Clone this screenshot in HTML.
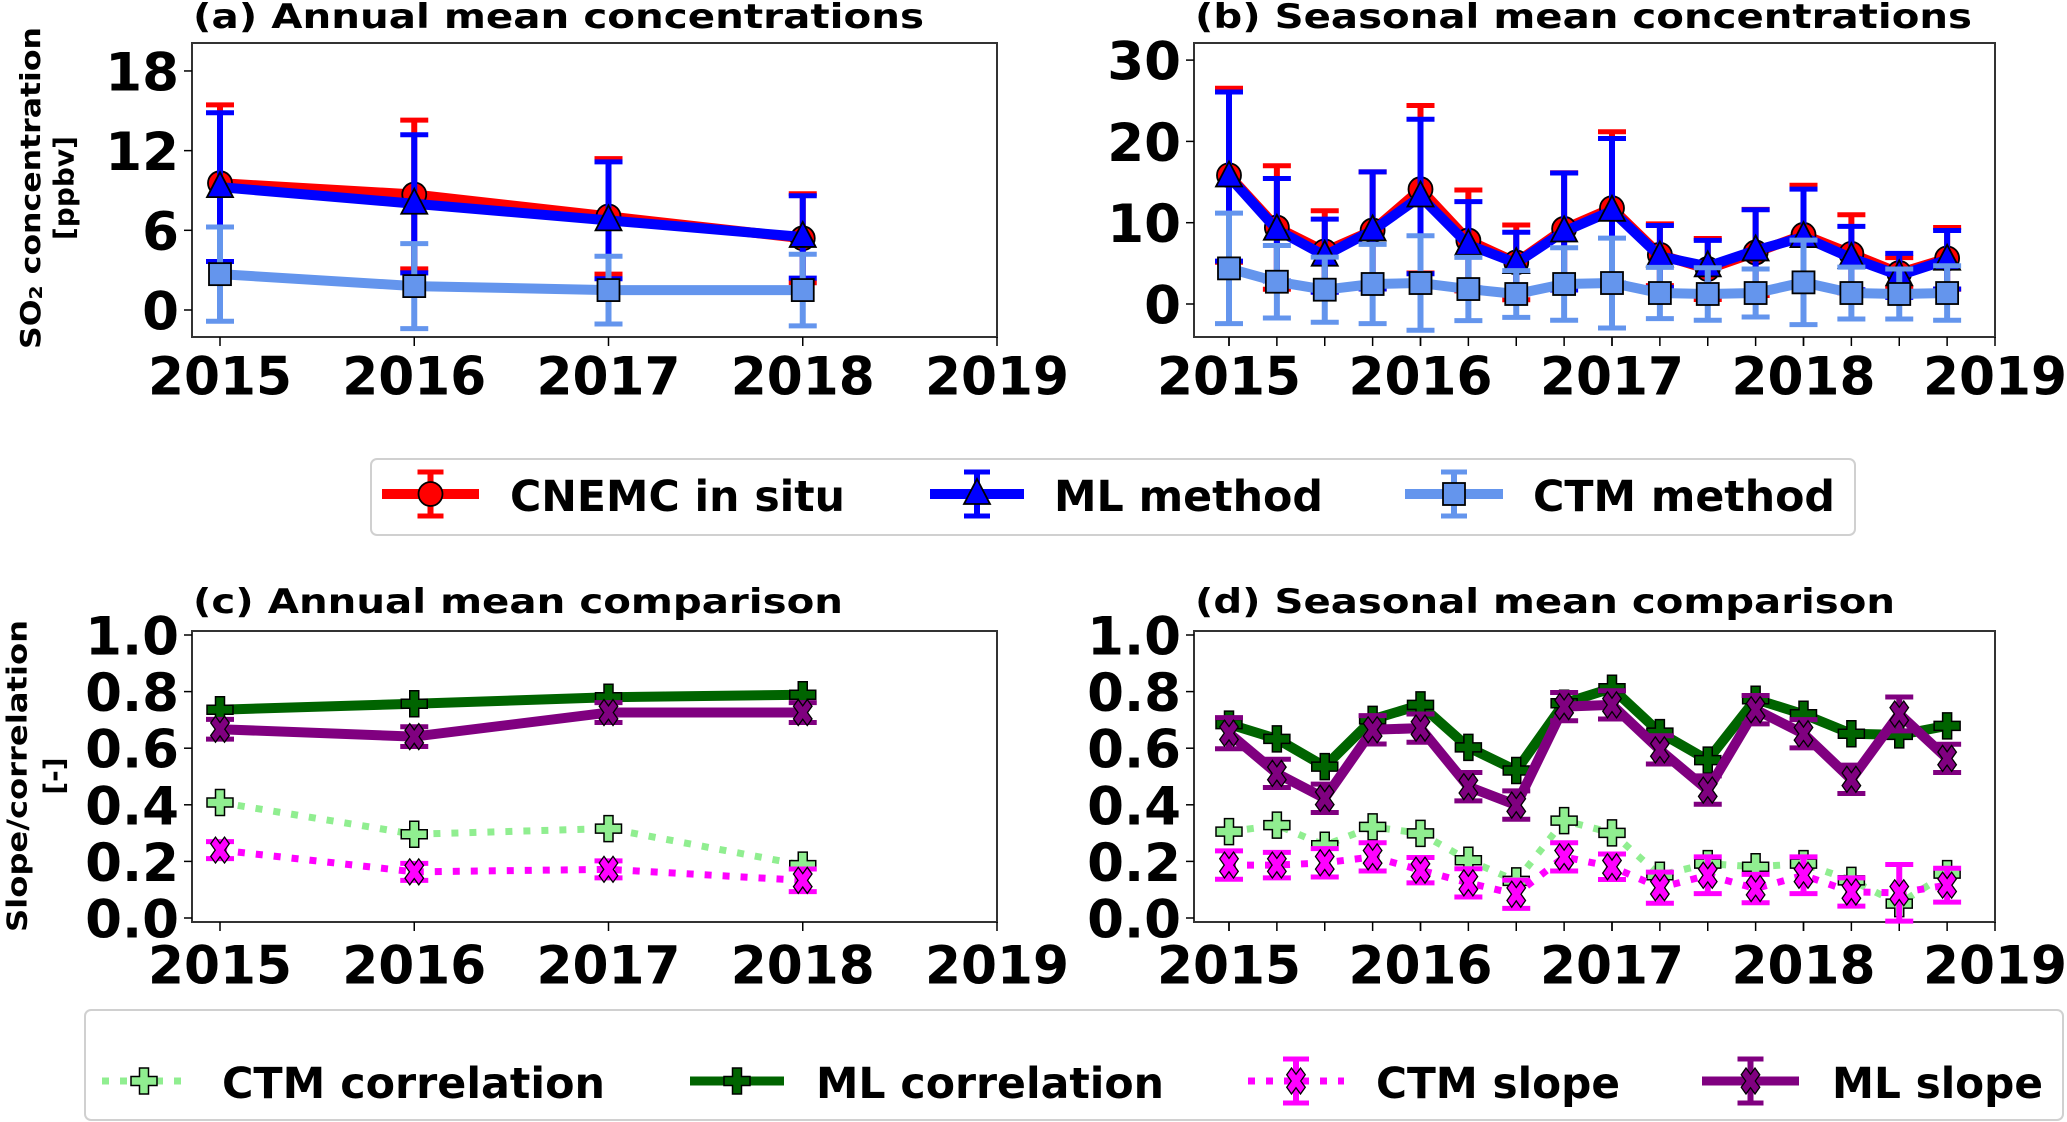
<!DOCTYPE html>
<html><head><meta charset="utf-8"><style>
html,body{margin:0;padding:0;background:#fff}
svg{display:block;font-family:"DejaVu Sans","Liberation Sans",sans-serif;font-weight:bold}
</style></head><body>
<svg id="fig" xmlns="http://www.w3.org/2000/svg" width="2067" height="1122" viewBox="0 0 2067 1122"></svg>
<script>
// ---------- data ----------
const annualYears = [2015, 2016, 2017, 2018];
const seasonIdx = [0,1,2,3,4,5,6,7,8,9,10,11,12,13,14,15];
const xTicks = [2015, 2016, 2017, 2018, 2019];
const xTickLabels = ['2015','2016','2017','2018','2019'];
const aYTicks = [0, 6, 12, 18];
const bYTicks = [0, 10, 20, 30];
const cdYTicks = [0, 0.2, 0.4, 0.6, 0.8, 1.0];
const cdYTickLabels = ['0.0','0.2','0.4','0.6','0.8','1.0'];

const aCnemc = [9.55, 8.7, 7.05, 5.4];
const aCnemcStd = [5.9, 5.6, 4.35, 3.35];
const aMl = [9.25, 8.0, 6.75, 5.5];
const aMlStd = [5.6, 5.2, 4.4, 3.1];
const aCtm = [2.7, 1.8, 1.5, 1.5];
const aCtmStd = [3.55, 3.2, 2.55, 2.7];

const bCnemc = [15.84, 9.41, 6.47, 9.05, 14.12, 7.82, 5.12, 9.25, 11.79, 6.06, 4.30, 6.34, 8.51, 6.18, 3.81, 5.61];
const bCnemcStd = [10.7, 7.6, 5.0, 7.2, 10.3, 6.2, 4.6, 6.9, 9.4, 3.8, 3.75, 5.3, 6.1, 4.8, 1.9, 3.8];
const bMl = [15.68, 9.13, 5.94, 9.05, 13.22, 7.29, 5.03, 8.92, 11.46, 5.85, 4.63, 6.59, 8.23, 5.65, 3.52, 5.44];
const bMlStd = [10.4, 6.3, 4.5, 7.2, 9.5, 5.3, 3.8, 7.2, 8.9, 3.8, 3.2, 5.0, 5.9, 3.9, 2.7, 3.6];
const bCtm = [4.38, 2.74, 1.76, 2.46, 2.58, 1.84, 1.23, 2.46, 2.58, 1.35, 1.23, 1.35, 2.66, 1.35, 1.23, 1.35];
const bCtmStd = [6.8, 4.46, 4.0, 4.88, 5.81, 3.89, 2.87, 4.46, 5.53, 3.15, 3.23, 2.95, 5.2, 3.19, 3.07, 3.35];

const cCtmCorr = [0.408, 0.296, 0.316, 0.187];
const cMlCorr = [0.736, 0.757, 0.780, 0.789];
const cCtmSlope = [0.240, 0.163, 0.172, 0.133];
const cCtmSlopeErr = [0.03, 0.03, 0.03, 0.04];
const cMlSlope = [0.667, 0.641, 0.726, 0.726];
const cMlSlopeErr = [0.035, 0.035, 0.035, 0.035];

const dCtmCorr = [0.305, 0.328, 0.257, 0.322, 0.299, 0.204, 0.131, 0.344, 0.301, 0.151, 0.192, 0.181, 0.192, 0.133, 0.051, 0.157];
const dMlCorr = [0.685, 0.633, 0.535, 0.702, 0.753, 0.603, 0.521, 0.759, 0.812, 0.655, 0.558, 0.773, 0.720, 0.651, 0.647, 0.679];
const dCtmSlope = [0.187, 0.187, 0.195, 0.216, 0.169, 0.124, 0.084, 0.216, 0.181, 0.107, 0.151, 0.104, 0.151, 0.092, 0.089, 0.116];
const dCtmSlopeErr = [0.05, 0.045, 0.05, 0.05, 0.045, 0.05, 0.05, 0.05, 0.045, 0.055, 0.065, 0.05, 0.065, 0.05, 0.1, 0.06];
const dMlSlope = [0.653, 0.511, 0.423, 0.665, 0.671, 0.464, 0.399, 0.747, 0.753, 0.594, 0.452, 0.736, 0.651, 0.490, 0.721, 0.564];
const dMlSlopeErr = [0.055, 0.05, 0.05, 0.05, 0.05, 0.05, 0.05, 0.05, 0.05, 0.05, 0.05, 0.05, 0.05, 0.05, 0.06, 0.05];

// ---------- helpers ----------
const NS = 'http://www.w3.org/2000/svg';
const svg = document.getElementById('fig');
function mk(tag, attrs, parent) {
  const e = document.createElementNS(NS, tag);
  for (const k in attrs) e.setAttribute(k, attrs[k]);
  (parent || svg).appendChild(e);
  return e;
}
function txt(parent, x, y, s, size, anchor, tl, extra) {
  const t = mk('text', Object.assign({x: x, y: y, 'font-size': size, 'text-anchor': anchor || 'middle', 'dominant-baseline': 'central', fill: '#000'}, extra || {}), parent);
  if (tl) { t.setAttribute('textLength', tl); t.setAttribute('lengthAdjust', 'spacingAndGlyphs'); }
  t.textContent = s;
  return t;
}
function markerShape(parent, kind, cx, cy, fill) {
  let e;
  if (kind === 'circle') {
    e = mk('ellipse', {cx: cx, cy: cy, rx: 12, ry: 12, fill: fill, stroke: '#000', 'stroke-width': 1.8}, parent);
  } else if (kind === 'tri') {
    e = mk('polygon', {points: `${cx},${cy-15} ${cx+13},${cy+10} ${cx-13},${cy+10}`, fill: fill, stroke: '#000', 'stroke-width': 1.8}, parent);
  } else if (kind === 'square') {
    e = mk('rect', {x: cx-11, y: cy-11, width: 22, height: 22, fill: fill, stroke: '#000', 'stroke-width': 1.8}, parent);
  } else if (kind === 'plus' || kind === 'x') {
    const s = 13, w = 4.5;
    e = mk('polygon', {points: `${cx-w},${cy-s} ${cx+w},${cy-s} ${cx+w},${cy-w} ${cx+s},${cy-w} ${cx+s},${cy+w} ${cx+w},${cy+w} ${cx+w},${cy+s} ${cx-w},${cy+s} ${cx-w},${cy+w} ${cx-s},${cy+w} ${cx-s},${cy-w} ${cx-w},${cy-w}`, fill: fill, stroke: '#000', 'stroke-width': 1.5}, parent);
    if (kind === 'x') e.setAttribute('transform', `translate(${cx} ${cy}) scale(0.75 1.05) rotate(45) translate(${-cx} ${-cy})`);
  }
  return e;
}

// ---------- panels ----------
function makePanel(cfg) {
  const g = mk('g', {});
  
  
  const L = cfg.left, R = cfg.right, T = cfg.top, B = cfg.bottom;
  const xs = v => cfg.x0 + (v - 2015) * cfg.xu;
  const ys = v => cfg.y0 - v * cfg.yu;
  const t = txt(g, (L + cfg.titleEnd) / 2, cfg.titleY, cfg.title, 34, 'middle', cfg.titleEnd - L - 2);
  
  
  const fr = mk('rect', {x: L, y: T, width: R - L, height: B - T, fill: '#fff', stroke: '#333', 'stroke-width': 2}, g);
  
  
  xTicks.forEach((v, i) => {
    const x = xs(v);
    mk('line', {x1: x, y1: B, x2: x, y2: B + 9, stroke: '#000', 'stroke-width': 1.5}, g);
    const lab = txt(g, x, cfg.xLabY, xTickLabels[i], 53, 'middle', 144);
    
    
  });
  if (cfg.minor) {
    seasonIdx.forEach(i => {
      const x = xs(2015 + i * 0.25);
      mk('line', {x1: x, y1: B, x2: x, y2: B + 9, stroke: '#000', 'stroke-width': 1.5}, g);
    });
  }
  cfg.yTicks.forEach((v, i) => {
    const y = ys(v);
    mk('line', {x1: L - 8, y1: y, x2: L, y2: y, stroke: '#000', 'stroke-width': 1.5}, g);
    const s = cfg.yLabels ? cfg.yLabels[i] : String(v);
    const lab = txt(g, L - 13, y + 2, s, 53, 'end');
    
    
  });
  cfg.series.forEach(s => {
    const sg = mk('g', {}, g);
    
    
    const xv = s.x.map(xs);
    const yv = s.vals.map(ys);
    if (s.err) {
      s.vals.forEach((v, i) => {
        const y1 = ys(v - s.err[i]), y2 = ys(v + s.err[i]);
        const eb = mk('line', {x1: xv[i], y1: y1, x2: xv[i], y2: y2, stroke: s.color, 'stroke-width': s.ew || 6}, sg);
        
        
        mk('line', {x1: xv[i] - 14, y1: y1, x2: xv[i] + 14, y2: y1, stroke: s.color, 'stroke-width': 5}, sg);
        mk('line', {x1: xv[i] - 14, y1: y2, x2: xv[i] + 14, y2: y2, stroke: s.color, 'stroke-width': 5}, sg);
      });
    }
    const pts = xv.map((x, i) => x + ',' + yv[i]).join(' ');
    const ln = mk('polyline', {points: pts, fill: 'none', stroke: s.color, 'stroke-width': s.lw || 10, 'stroke-linejoin': 'round'}, sg);
    if (s.dash) ln.setAttribute('stroke-dasharray', s.dash);
    
    
    xv.forEach((x, i) => {
      const m = markerShape(sg, s.marker, x, yv[i], s.mfill || s.color);
      
      
    });
  });
}

const ax = annualYears;
const sx = seasonIdx.map(i => 2015 + i * 0.25);
const leftAxes = {left: 192, right: 997, x0: 220, xu: 194.25};
const rightAxes = {left: 1194, right: 1995, x0: 1229, xu: 191.5};

makePanel(Object.assign({}, leftAxes, {name: 'panel-a-annual-concentrations', title: '(a) Annual mean concentrations', titleY: 17, titleEnd: 925,
  top: 43, bottom: 337, y0: 310, yu: 13.28, yTicks: aYTicks, xLabY: 377,
  series: [
    {name: 'cnemc-annual', x: ax, vals: aCnemc, err: aCnemcStd, color: '#ff0000', marker: 'circle'},
    {name: 'ml-annual', x: ax, vals: aMl, err: aMlStd, color: '#0000ff', marker: 'tri'},
    {name: 'ctm-annual', x: ax, vals: aCtm, err: aCtmStd, color: '#6495ed', marker: 'square'}]}));

makePanel(Object.assign({}, rightAxes, {name: 'panel-b-seasonal-concentrations', title: '(b) Seasonal mean concentrations', titleY: 17, titleEnd: 1973, minor: true,
  top: 43, bottom: 337, y0: 304, yu: 8.13, yTicks: bYTicks, xLabY: 377,
  series: [
    {name: 'cnemc-seasonal', x: sx, vals: bCnemc, err: bCnemcStd, color: '#ff0000', marker: 'circle'},
    {name: 'ml-seasonal', x: sx, vals: bMl, err: bMlStd, color: '#0000ff', marker: 'tri'},
    {name: 'ctm-seasonal', x: sx, vals: bCtm, err: bCtmStd, color: '#6495ed', marker: 'square'}]}));

makePanel(Object.assign({}, leftAxes, {name: 'panel-c-annual-comparison', title: '(c) Annual mean comparison', titleY: 602, titleEnd: 844,
  top: 631, bottom: 922, y0: 918, yu: 283, yTicks: cdYTicks, yLabels: cdYTickLabels, xLabY: 966,
  series: [
    {name: 'ctm-correlation-annual', x: ax, vals: cCtmCorr, color: '#90ee90', marker: 'plus', lw: 7, dash: '7 11'},
    {name: 'ml-correlation-annual', x: ax, vals: cMlCorr, color: '#006400', marker: 'plus', lw: 10},
    {name: 'ctm-slope-annual', x: ax, vals: cCtmSlope, err: cCtmSlopeErr, color: '#ff00ff', marker: 'x', lw: 7, dash: '7 11'},
    {name: 'ml-slope-annual', x: ax, vals: cMlSlope, err: cMlSlopeErr, color: '#800080', marker: 'x', lw: 10}]}));

makePanel(Object.assign({}, rightAxes, {name: 'panel-d-seasonal-comparison', title: '(d) Seasonal mean comparison', titleY: 602, titleEnd: 1896, minor: true,
  top: 631, bottom: 922, y0: 918, yu: 283, yTicks: cdYTicks, yLabels: cdYTickLabels, xLabY: 966,
  series: [
    {name: 'ctm-correlation-seasonal', x: sx, vals: dCtmCorr, color: '#90ee90', marker: 'plus', lw: 7, dash: '7 11'},
    {name: 'ml-correlation-seasonal', x: sx, vals: dMlCorr, color: '#006400', marker: 'plus', lw: 10},
    {name: 'ctm-slope-seasonal', x: sx, vals: dCtmSlope, err: dCtmSlopeErr, color: '#ff00ff', marker: 'x', lw: 7, dash: '7 11'},
    {name: 'ml-slope-seasonal', x: sx, vals: dMlSlope, err: dMlSlopeErr, color: '#800080', marker: 'x', lw: 10}]}));

// y-axis titles
function yTitle(cx1, cx2, cy, l1, l2, len1, name) {
  const g = mk('g', {});
  
  
  const t1 = mk('text', {x: cx1, y: cy, 'font-size': 28, 'text-anchor': 'middle', 'dominant-baseline': 'central', transform: `rotate(-90 ${cx1} ${cy})`, textLength: len1, lengthAdjust: 'spacingAndGlyphs'}, g);
  if (Array.isArray(l1)) {
    const a = mk('tspan', {}, t1); a.textContent = l1[0];
    const b = mk('tspan', {'font-size': 18, dy: 6}, t1); b.textContent = l1[1];
    const c = mk('tspan', {dy: -6}, t1); c.textContent = l1[2];
  } else t1.textContent = l1;
  const t2 = mk('text', {x: cx2, y: cy, 'font-size': 28, 'text-anchor': 'middle', 'dominant-baseline': 'central', transform: `rotate(-90 ${cx2} ${cy})`}, g);
  t2.textContent = l2;
}
yTitle(30, 64, 188, ['SO', '2', ' concentration'], '[ppbv]', 322, 'y-axis-title-concentration');
yTitle(17, 54, 776, 'Slope/correlation', '[-]', 312, 'y-axis-title-slope-correlation');

// ---------- legends ----------
function legendHandle(g, x1, x2, y, color, marker, mfill, lw, dash, err) {
  if (err) {
    const xm = (x1 + x2) / 2;
    mk('line', {x1: xm, y1: y - 22, x2: xm, y2: y + 22, stroke: color, 'stroke-width': 6}, g);
    mk('line', {x1: xm - 13, y1: y - 22, x2: xm + 13, y2: y - 22, stroke: color, 'stroke-width': 5}, g);
    mk('line', {x1: xm - 13, y1: y + 22, x2: xm + 13, y2: y + 22, stroke: color, 'stroke-width': 5}, g);
  }
  const l = mk('line', {x1: x1, y1: y, x2: x2, y2: y, stroke: color, 'stroke-width': lw}, g);
  if (dash) l.setAttribute('stroke-dasharray', dash);
  markerShape(g, marker, (x1 + x2) / 2, y, mfill || color);
}
const lg1 = mk('g', {});


mk('rect', {x: 371, y: 459, width: 1484, height: 76, rx: 6, fill: '#fff', stroke: '#d0d0d0', 'stroke-width': 2}, lg1);
[
  {n: 'legend-entry-cnemc', x1: 382, x2: 479, c: '#ff0000', m: 'circle', tx: 510, s: 'CNEMC in situ', tl: 335},
  {n: 'legend-entry-ml', x1: 930, x2: 1024, c: '#0000ff', m: 'tri', tx: 1054, s: 'ML method', tl: 269},
  {n: 'legend-entry-ctm', x1: 1405, x2: 1503, c: '#6495ed', m: 'square', tx: 1533, s: 'CTM method', tl: 302}
].forEach(e => {
  const g = mk('g', {}, lg1);
  
  
  legendHandle(g, e.x1, e.x2, 494, e.c, e.m, null, 10, null, true);
  txt(g, e.tx, 497, e.s, 43, 'start', e.tl);
});
const lg2 = mk('g', {});


mk('rect', {x: 85, y: 1010, width: 1978, height: 110, rx: 6, fill: '#fff', stroke: '#d0d0d0', 'stroke-width': 2}, lg2);
[
  {n: 'legend-entry-ctm-correlation', x1: 102, x2: 186, c: '#90ee90', m: 'plus', tx: 222, s: 'CTM correlation', tl: 383, lw: 7, d: '7 11', err: false},
  {n: 'legend-entry-ml-correlation', x1: 690, x2: 784, c: '#006400', m: 'plus', tx: 816, s: 'ML correlation', tl: 348, lw: 9, d: null, err: false},
  {n: 'legend-entry-ctm-slope', x1: 1248, x2: 1344, c: '#ff00ff', m: 'x', tx: 1376, s: 'CTM slope', tl: 244, lw: 7, d: '7 11', err: true},
  {n: 'legend-entry-ml-slope', x1: 1702, x2: 1799, c: '#800080', m: 'x', tx: 1832, s: 'ML slope', tl: 211, lw: 9, d: null, err: true}
].forEach(e => {
  const g = mk('g', {}, lg2);
  
  
  legendHandle(g, e.x1, e.x2, 1081, e.c, e.m, null, e.lw, e.d, e.err);
  txt(g, e.tx, 1084, e.s, 43, 'start', e.tl);
});
</script>
</body></html>
